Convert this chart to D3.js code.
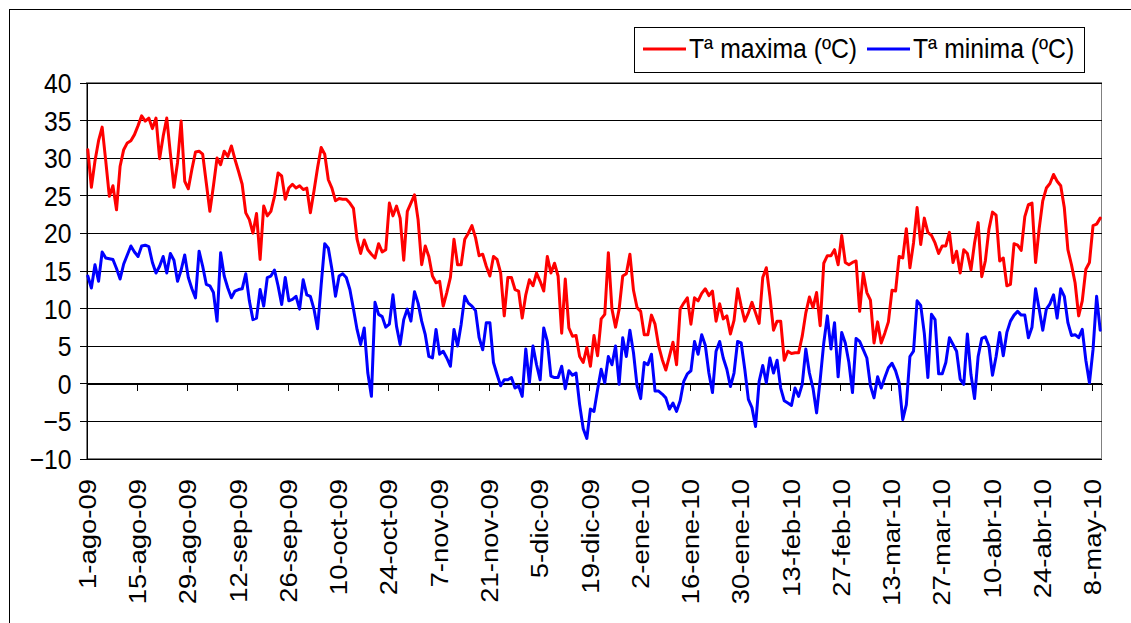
<!DOCTYPE html>
<html>
<head>
<meta charset="utf-8">
<script src="https://cdn.jsdelivr.net/npm/d3@7"></script>
<style>
  html, body { margin: 0; padding: 0; background: #fff; }
  svg { display: block; }
  text { font-family: "Liberation Sans", Arial, sans-serif; fill: #000; }
</style>
</head>
<body>
<svg id="chart" width="1131" height="623"></svg>
<script>
// ---- data (daily values from 1-ago-09, one per day) ----
const tmax = [
31.0,26.0,29.5,32.2,34.0,29.5,24.8,26.2,23.0,28.8,
31.0,31.9,32.2,33.0,34.2,35.5,34.8,35.2,33.8,35.2,
29.8,32.8,35.2,30.5,26.0,29.3,34.8,26.8,25.8,28.4,
30.7,30.8,30.4,26.6,22.8,26.2,29.9,29.0,30.8,30.1,
31.5,29.7,28.1,26.4,22.6,21.7,19.9,22.5,16.4,23.5,
22.2,22.8,24.8,27.9,27.5,24.4,25.9,26.4,25.9,26.2,
25.7,25.9,22.6,25.5,28.6,31.3,30.4,27.0,25.9,24.2,
24.5,24.4,24.4,23.9,23.2,19.1,17.2,19.0,17.7,17.1,
16.6,18.5,17.4,17.7,23.9,22.2,23.5,21.9,16.3,22.8,
23.9,25.0,21.7,15.7,18.2,16.8,14.2,13.3,13.5,10.2,
12.0,14.0,19.1,15.7,15.7,19.1,19.9,20.9,19.3,16.9,
17.1,15.5,14.2,16.8,16.4,14.6,8.9,14.0,14.0,12.4,
12.2,8.6,11.7,13.7,12.9,14.6,13.5,12.2,16.8,14.6,
15.9,14.2,6.6,13.8,7.3,6.2,6.3,3.5,2.7,4.7,
2.2,6.3,3.6,8.5,9.1,17.3,9.8,7.4,9.8,14.2,
14.5,17.1,12.3,10.0,9.5,6.4,6.4,9.0,7.8,4.9,
3.1,1.7,3.5,5.4,2.4,9.8,10.6,11.3,7.8,11.3,
10.9,11.9,12.5,11.6,12.2,8.2,10.5,8.5,8.9,6.5,
8.3,12.5,10.2,8.2,9.3,10.7,9.3,7.9,14.0,15.3,
11.5,7.0,8.2,8.2,3.0,4.2,3.9,4.0,4.0,6.2,
9.3,11.4,10.0,12.0,7.6,15.9,16.9,16.9,17.7,15.7,
19.6,16.0,15.7,16.0,16.2,9.5,14.6,12.0,11.0,5.3,
8.1,5.3,6.6,8.1,12.3,12.2,16.8,16.6,20.5,15.3,
18.6,23.3,18.4,21.9,20.0,19.6,18.6,17.2,18.2,18.2,
20.0,16.0,17.5,14.6,17.7,17.2,15.0,18.6,21.3,14.1,
16.2,20.4,22.7,22.3,16.2,16.6,12.9,13.1,18.5,18.3,
17.6,22.1,23.7,23.9,16.0,20.5,24.2,25.9,26.5,27.7,
26.8,26.2,23.3,17.7,15.7,13.3,8.9,10.9,15.1,16.0,
20.9,21.1,21.9
];
const tmin = [
14.2,12.6,15.7,13.5,17.4,16.6,16.5,16.4,15.2,13.8,
15.8,17.0,18.2,17.4,16.8,18.2,18.3,18.1,16.0,14.6,
15.5,16.8,14.6,17.2,16.3,13.5,15.0,17.0,14.0,12.5,
11.3,17.5,15.5,13.1,12.9,12.0,8.2,17.3,14.2,12.6,
11.3,12.2,12.4,12.5,14.5,10.9,8.4,8.6,12.4,10.2,
14.0,14.2,15.0,12.9,10.4,14.0,10.9,11.1,11.5,9.8,
13.7,11.7,11.5,9.8,7.2,13.0,18.5,17.9,15.1,11.5,
14.2,14.5,14.0,12.4,9.8,7.1,5.1,7.3,1.3,-1.8,
10.7,9.1,8.8,7.4,7.8,11.7,7.5,5.1,8.4,9.8,
8.2,12.1,10.6,8.2,6.4,3.5,3.3,7.1,3.8,4.2,
3.3,2.2,7.1,4.9,7.8,11.5,10.6,10.2,9.6,6.0,
4.4,8.0,8.0,2.7,1.1,-0.4,0.4,0.4,0.7,-0.7,
-0.4,-1.8,4.5,0.0,4.9,2.4,0.4,7.3,5.5,0.9,
0.7,0.7,2.2,-0.8,1.6,1.0,1.3,-2.9,-6.1,-7.4,
-3.5,-3.8,-0.9,1.8,0.0,3.5,2.4,4.9,-0.2,6.0,
3.5,7.0,4.0,-0.4,-2.1,2.7,2.4,3.8,-1.1,-1.1,
-1.5,-2.0,-3.5,-2.7,-3.8,-2.4,0.2,1.2,1.6,5.5,
3.8,6.4,5.0,1.3,-1.3,4.2,5.5,3.3,1.8,-0.5,
1.3,5.5,5.3,1.8,-2.2,-3.3,-5.8,0.2,2.3,0.0,
3.3,1.3,3.0,-0.7,-2.4,-2.7,-3.0,-0.7,-1.8,-0.2,
4.5,1.3,-0.7,-4.0,0.4,5.3,8.9,4.5,8.0,0.8,
6.7,5.3,2.7,-1.3,5.9,5.5,4.4,3.3,-0.4,-2.0,
0.8,-0.7,0.7,2.0,2.6,1.6,0.0,-4.9,-2.9,3.5,
4.2,10.9,10.3,6.6,0.7,9.1,8.4,1.2,1.2,2.7,
6.0,5.1,4.2,0.5,-0.2,6.5,1.1,-2.1,3.5,5.9,
6.1,4.9,1.0,3.5,6.7,3.6,6.7,8.2,9.0,9.5,
9.0,9.0,6.0,7.4,12.5,9.8,7.0,9.8,10.5,11.7,
8.6,12.5,11.5,8.0,6.3,6.4,6.0,7.1,3.0,0.0,
4.4,11.5,7.0
];
const tickLabels = ["1-ago-09","15-ago-09","29-ago-09","12-sep-09","26-sep-09","10-oct-09",
  "24-oct-09","7-nov-09","21-nov-09","5-dic-09","19-dic-09","2-ene-10","16-ene-10",
  "30-ene-10","13-feb-10","27-feb-10","13-mar-10","27-mar-10","10-abr-10","24-abr-10","8-may-10"];
const tickStepDays = 14;
const yTicks = [-10,-5,0,5,10,15,20,25,30,35,40];
const seriesNames = ["Tª maxima (ºC)", "Tª minima (ºC)"];
const seriesColors = ["#ff0000", "#0000ff"];

// ---- layout ----
const L = 86, R = 1102, T = 82, B = 458;
const FS = 27.5, SQ = 0.9;

const svg = d3.select("#chart");
svg.append("rect").attr("width",1131).attr("height",623).attr("fill","#fff");
// outer chart frame (cropped on right / bottom)
svg.append("rect").attr("x",9.5).attr("y",9.5).attr("width",1200).attr("height",800)
  .attr("fill","none").attr("stroke","#000").attr("stroke-width",1);

const n = tmax.length;
const x = d3.scaleLinear().domain([0, n]).range([L, R]);
const y = d3.scaleLinear().domain([-10, 40]).range([B, T]);

// plot area border
svg.append("rect").attr("x",L+0.5).attr("y",T+0.5).attr("width",R-L-1).attr("height",B-T)
  .attr("fill","#fff").attr("stroke","#808080").attr("stroke-width",1);

// gridlines
const grid = svg.append("g").attr("transform",`translate(${L},0.5)`)
  .call(d3.axisLeft(y).tickValues(yTicks).tickSize(-(R-L)).tickFormat(""));
grid.select(".domain").remove();
grid.selectAll("line").attr("stroke","#000").attr("shape-rendering","crispEdges");

// y axis
const yAxis = svg.append("g").attr("transform",`translate(${L+0.5},0.5)`)
  .call(d3.axisLeft(y).tickValues(yTicks).tickSize(7).tickSizeOuter(0));
yAxis.select(".domain").attr("stroke","#000").attr("shape-rendering","crispEdges");
yAxis.selectAll("line").attr("stroke","#000").attr("shape-rendering","crispEdges");
yAxis.selectAll("text")
  .attr("x", null).attr("dy", "0.36em")
  .attr("transform", `translate(-15,0) scale(${SQ},1)`)
  .style("font-size", FS + "px").style("font-family", '"Liberation Sans", Arial, sans-serif')
  .attr("fill","#000");

// x axis at 0 with ticks
const tickDays = tickLabels.map((d,i) => i * tickStepDays);
const xAxis = svg.append("g").attr("transform",`translate(0.5,${Math.round(y(0))+0.5})`)
  .call(d3.axisBottom(x).tickValues(tickDays).tickSize(7).tickSizeOuter(0).tickFormat(""));
xAxis.select(".domain").attr("stroke","#000").attr("shape-rendering","crispEdges");
xAxis.selectAll("line").attr("stroke","#000").attr("shape-rendering","crispEdges");

// x labels at bottom
const xl = svg.append("g");
xl.selectAll("text").data(tickLabels).join("text")
  .attr("transform", (d,i) => `translate(${x(tickDays[i]) + 1},479) scale(${SQ},1) rotate(-90)`)
  .attr("text-anchor","end").attr("dy","0.36em")
  .style("font-size", FS + "px")
  .text(d => d);

// series lines
const line = d3.line().x((d,i) => x(i + 0.5)).y(d => y(d));
[tmax, tmin].forEach((s, k) => {
  svg.append("path").datum(s).attr("d", line)
    .attr("fill","none").attr("stroke", seriesColors[k]).attr("stroke-width", 3)
    .attr("stroke-linejoin","round").attr("stroke-linecap","round");
});

// legend
const lg = svg.append("g");
lg.append("rect").attr("x",634.5).attr("y",27.5).attr("width",450).attr("height",45)
  .attr("fill","#fff").attr("stroke","#000");
const legX = [643, 867];
seriesNames.forEach((name, k) => {
  lg.append("line").attr("x1", legX[k]).attr("x2", legX[k] + 43).attr("y1", 49).attr("y2", 49)
    .attr("stroke", seriesColors[k]).attr("stroke-width", 3);
  lg.append("text").attr("transform", `translate(${legX[k] + 46},58) scale(${SQ},1)`)
    .style("font-size", FS + "px").text(name);
});
</script>
</body>
</html>
